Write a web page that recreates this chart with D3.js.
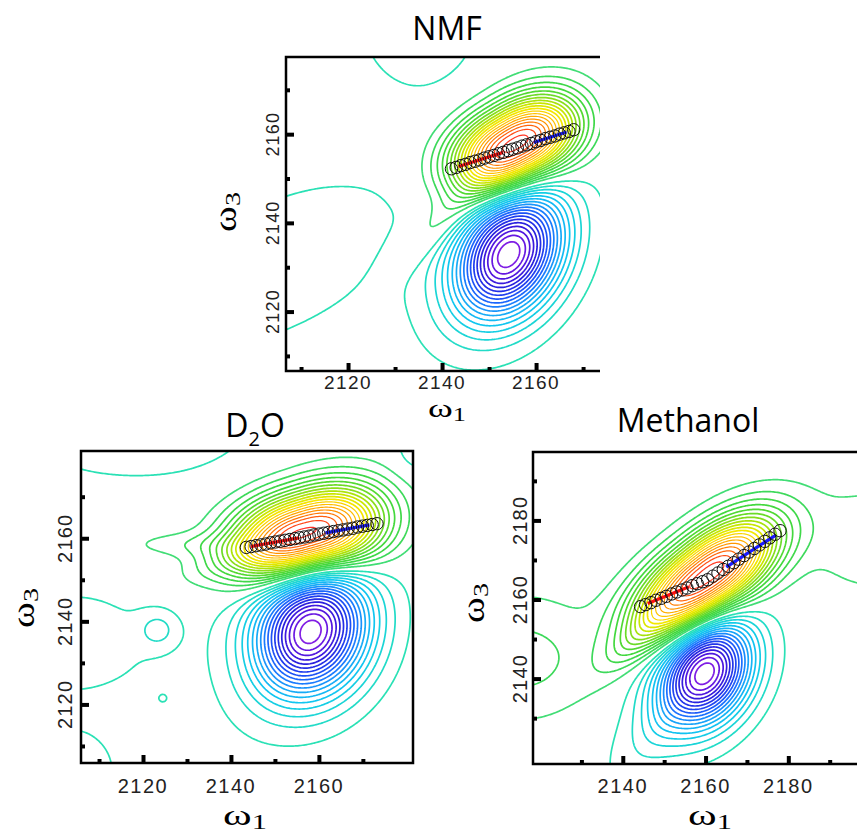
<!DOCTYPE html>
<html><head><meta charset="utf-8">
<script src="https://cdn.jsdelivr.net/npm/d3@7"></script>
<style>body{margin:0;background:#fff}</style>
</head><body><svg id="c" width="857" height="836"></svg>
<script>
// ---------------- DATA (values in cm^-1) ----------------
// spectral components: [ω1 centre, ω3 centre, width along axis, width across axis, axis angle (deg), amplitude, gaussian fraction, exponent along axis]
const nmfPeaks = [
  [2155.5, 2157.5, 10.5, 5.8, 32, 0.9, 1, 2.4],
  [2141, 2141, 9, 3, 45, 0.1, 1, 2],
  [2154.5, 2133.3, 10, 7, 65, -0.75, 1, 2],
  [2151, 2129, 13, 8, 58, -0.1, 0.3, 2],
  [2104, 2130, 22, 11, 30, -0.07, 1, 2],
  [2135, 2186, 9, 11, 0, -0.08, 1, 2]
];
const d2oPeaks = [
  [2157.5, 2161, 12.5, 6.8, 18, 0.9, 1, 2.4],
  [2143, 2156, 10, 3, 20, 0.08, 1, 2],
  [2158.4, 2138.2, 10.5, 8.5, 75, -0.75, 1, 2],
  [2155, 2133, 13, 8, 60, -0.1, 0.3, 2],
  [2123.5, 2138, 3.2, 3.2, 0, -0.075, 1, 2],
  [2130, 2158.5, 10, 2.2, 0, 0.06, 1, 2],
  [2118, 2186, 20, 9, 0, -0.07, 1, 2],
  [2104, 2135, 14, 10, 0, -0.06, 1, 2],
  [2104, 2104, 7, 7, 0, -0.07, 1, 2],
  [2124.5, 2121.5, 0.6, 0.6, 0, -0.06, 1, 2],
  [2183, 2181, 4, 4, 0, -0.07, 1, 2]
];
const methanolPeaks = [
  [2160, 2165.5, 15, 6.2, 40, 0.9, 1, 2.4],
  [2143, 2150, 8, 3, 45, 0.1, 1, 2],
  [2160, 2141.8, 9.5, 7, 65, -0.75, 1, 2],
  [2150, 2130, 14, 6, 55, -0.1, 0.3, 2],
  [2116, 2145, 13, 11, 0, 0.1, 1, 2],
  [2200, 2175, 12, 10, 0, 0.07, 1, 2]
];

// centre-line points (open circles) : ω1 and ω3
const nmfCL1 = [2142,2143,2144,2145,2146,2147,2148,2149,2150,2151,2152,2153,2154,2155,2156,2157,2158,2159,2160,2161,2162,2163,2164,2165,2166,2167,2168];
const nmfCL3 = [2152.2,2152.5,2152.9,2153.2,2153.6,2153.9,2154.2,2154.6,2154.9,2155.2,2155.6,2155.9,2156.3,2156.6,2156.9,2157.3,2157.6,2157.9,2158.3,2158.6,2159.0,2159.3,2159.6,2160.0,2160.3,2160.6,2161.0];
const d2oCL1 = [2143.5,2144.6,2145.7,2146.8,2147.9,2149.0,2150.1,2151.2,2152.3,2153.4,2154.5,2155.6,2156.7,2157.8,2158.9,2160.0,2161.1,2162.2,2163.3,2164.4,2165.5,2166.6,2167.7,2168.8,2169.9,2171.0,2172.1,2173.2];
const d2oCL3 = [2157.8,2158.0,2158.2,2158.4,2158.6,2158.9,2159.1,2159.3,2159.5,2159.7,2159.9,2160.1,2160.3,2160.5,2160.8,2161.0,2161.2,2161.4,2161.6,2161.8,2162.0,2162.2,2162.4,2162.7,2162.9,2163.1,2163.3,2163.5];
const methCL1 = [2144.3,2145.5,2146.8,2148.0,2149.3,2150.5,2151.8,2153.0,2154.3,2155.5,2156.8,2158.0,2159.3,2160.5,2161.8,2163.0,2164.3,2165.5,2166.8,2168.0,2169.3,2170.5,2171.8,2173.0,2174.3,2175.5,2176.8,2178.0];
const methCL3 = [2158.2,2158.7,2159.2,2159.8,2160.3,2160.8,2161.4,2161.9,2162.4,2162.9,2163.5,2164.0,2164.5,2165.0,2165.9,2166.7,2167.6,2168.4,2169.3,2170.2,2171.1,2172.0,2172.9,2173.8,2174.7,2175.6,2176.5,2177.4];

// fitted segments: [ω1 start, ω3 start, ω1 end, ω3 end]
const nmfRed = [2143.5, 2152.7, 2153, 2155.9];
const nmfBlue = [2159.5, 2158.1, 2166.5, 2160.5];
const d2oRed = [2144.5, 2158.0, 2155.5, 2160.1];
const d2oBlue = [2161.5, 2161.3, 2171.5, 2163.2];
const methRed = [2146, 2159.0, 2156, 2163.2];
const methBlue = [2165, 2168.2, 2177, 2176.3];

// axis ticks
const nmfMajorX = [2120, 2140, 2160], nmfMinorX = [2110, 2130, 2150, 2170];
const nmfMajorY = [2120, 2140, 2160], nmfMinorY = [2110, 2130, 2150, 2170];
const d2oMajorX = [2120, 2140, 2160], d2oMinorX = [2110, 2130, 2150, 2170];
const d2oMajorY = [2120, 2140, 2160], d2oMinorY = [2110, 2130, 2150, 2170];
const methMajorX = [2140, 2160, 2180], methMinorX = [2130, 2150, 2170, 2190];
const methMajorY = [2140, 2160, 2180], methMinorY = [2130, 2150, 2170, 2190];

// axis domains
const nmfDomX = [2106.8, 2173.6], nmfDomY = [2106.6, 2177.4];
const d2oDomX = [2105.9, 2181.4], d2oDomY = [2105.9, 2181.0];
const methDomX = [2118.3, 2196.6], methDomY = [2118.4, 2197.3];

// contour levels
const levelSteps = d3.range(0, 24);

// ---------------- LAYOUT ----------------
const panels = [
  {title: "NMF", peaks: nmfPeaks, cl1: nmfCL1, cl3: nmfCL3, red: nmfRed, blue: nmfBlue,
   majX: nmfMajorX, minX: nmfMinorX, majY: nmfMajorY, minY: nmfMinorY, domX: nmfDomX, domY: nmfDomY,
   box: {l: 286, t: 57, r: 600, b: 371}, rightBorder: false, titleXY: [447, 40],
   xlabOff: 18, xlabSize: 19, ylabOff: 7, ylabSize: 18, w1XY: [447, 417], w1Size: 26, w3XY: [236, 212]},
  {title: "D2O", peaks: d2oPeaks, cl1: d2oCL1, cl3: d2oCL3, red: d2oRed, blue: d2oBlue,
   majX: d2oMajorX, minX: d2oMinorX, majY: d2oMajorY, minY: d2oMinorY, domX: d2oDomX, domY: d2oDomY,
   box: {l: 81, t: 451, r: 413, b: 763}, rightBorder: true, titleXY: [255, 437],
   xlabOff: 30, xlabSize: 20, ylabOff: 9, ylabSize: 20, w1XY: [245, 825], w1Size: 30, w3XY: [34, 608]},
  {title: "Methanol", peaks: methanolPeaks, cl1: methCL1, cl3: methCL3, red: methRed, blue: methBlue,
   majX: methMajorX, minX: methMinorX, majY: methMajorY, minY: methMinorY, domX: methDomX, domY: methDomY,
   box: {l: 533, t: 452, r: 857, b: 764}, rightBorder: false, titleXY: [688, 432],
   xlabOff: 29, xlabSize: 20, ylabOff: 6, ylabSize: 20, w1XY: [710, 825], w1Size: 30, w3XY: [484, 603]}
];

const svg = d3.select("#c");

const posColor = d3.piecewise(d3.interpolateRgb, ["#44e08a","#3cd850","#46d838","#7cdc20","#c4e600","#f4e800","#ffc000","#ff9000","#ff5a10","#ff2a2a"]);
const negColor = d3.piecewise(d3.interpolateRgb, ["#30e6a8","#1ed8d0","#10c8f0","#18a8f8","#1a70ff","#1f40f0","#2a1edc","#5a14e0","#9222e6"]);

function field(comps, x, y) {
  let v = 0;
  for (const [cx, cy, sa, sb, ang, amp, g, q] of comps) {
    const a = ang * Math.PI / 180;
    const dx = x - cx, dy = y - cy;
    const u = dx * Math.cos(a) + dy * Math.sin(a);
    const w = -dx * Math.sin(a) + dy * Math.cos(a);
    const r2 = Math.pow(Math.abs(u / sa), q) + (w / sb) ** 2;
    v += amp * (g * Math.exp(-r2 / 2) + (1 - g) / (1 + r2));
  }
  return v;
}

panels.forEach((p, pi) => {
  const {l, t, r, b} = p.box;
  const x = d3.scaleLinear().domain(p.domX).range([l, r]);
  const y = d3.scaleLinear().domain(p.domY).range([b, t]);
  const g = svg.append("g");

  const cid = "clip" + pi;
  svg.append("clipPath").attr("id", cid).append("rect")
    .attr("x", l).attr("y", t).attr("width", r - l).attr("height", b - t);

  const step = 0.35, pad = 6;
  const x0 = p.domX[0] - pad, x1 = p.domX[1] + pad;
  const y0 = p.domY[0] - pad, y1 = p.domY[1] + pad;
  const nx = Math.ceil((x1 - x0) / step) + 1, ny = Math.ceil((y1 - y0) / step) + 1;
  const vals = new Array(nx * ny);
  let vmax = 0, vmin = 0;
  for (let j = 0; j < ny; j++) {
    const wy = y1 - j * step;
    for (let i = 0; i < nx; i++) {
      const wx = x0 + i * step;
      const v = field(p.peaks, wx, wy);
      vals[j * nx + i] = v;
      if (v > vmax) vmax = v;
      if (v < vmin) vmin = v;
    }
  }
  const posLevels = levelSteps.map(k => 0.035 + 0.045 * k).filter(v => v < vmax);
  const negLevels = levelSteps.map(k => -(0.035 + 0.045 * k)).filter(v => v > vmin);
  const thresholds = negLevels.concat(posLevels);

  const contours = d3.contours().size([nx, ny]).thresholds(thresholds)(vals);
  const proj = d3.geoTransform({
    point: function(px, py) {
      this.stream.point(x(x0 + (px - 0.5) * step), y(y1 - (py - 0.5) * step));
    }
  });
  const path = d3.geoPath(proj);

  g.append("g").attr("clip-path", `url(#${cid})`)
    .selectAll("path").data(contours).join("path")
    .attr("d", path)
    .attr("fill", "none")
    .attr("stroke", d => d.value > 0 ? posColor(Math.min(1, d.value / vmax)) : negColor(Math.min(1, d.value / vmin)))
    .attr("stroke-width", d => d.value > 0 && d.value / vmax > 0.6 ? 1.2 : 1.7)
    .attr("stroke-linejoin", "round");

  const pts = p.cl1.map((v, i) => [v, p.cl3[i]]);
  const cg = g.append("g").attr("clip-path", `url(#${cid})`);
  cg.append("line").attr("x1", x(p.red[0])).attr("y1", y(p.red[1])).attr("x2", x(p.red[2])).attr("y2", y(p.red[3]))
    .attr("stroke", "#ff1010").attr("stroke-width", 3.2);
  cg.append("line").attr("x1", x(p.blue[0])).attr("y1", y(p.blue[1])).attr("x2", x(p.blue[2])).attr("y2", y(p.blue[3]))
    .attr("stroke", "#1a1aff").attr("stroke-width", 3.2);
  cg.selectAll("circle").data(pts).join("circle")
    .attr("cx", d => x(d[0])).attr("cy", d => y(d[1])).attr("r", 6.2)
    .attr("fill", "none").attr("stroke", "#111").attr("stroke-width", 1);

  const axB = g.append("g").attr("transform", `translate(0,${b})`);
  axB.call(d3.axisBottom(x).tickValues(p.majX).tickSize(-8).tickFormat(""));
  axB.selectAll(".tick line").attr("stroke", "#000").attr("stroke-width", 4);
  const axB2 = g.append("g").attr("transform", `translate(0,${b})`);
  axB2.call(d3.axisBottom(x).tickValues(p.minX).tickSize(-4).tickFormat(""));
  axB2.selectAll(".tick line").attr("stroke", "#000").attr("stroke-width", 4);
  const axL = g.append("g").attr("transform", `translate(${l},0)`);
  axL.call(d3.axisLeft(y).tickValues(p.majY).tickSize(-8).tickFormat(""));
  axL.selectAll(".tick line").attr("stroke", "#000").attr("stroke-width", 4);
  const axL2 = g.append("g").attr("transform", `translate(${l},0)`);
  axL2.call(d3.axisLeft(y).tickValues(p.minY).tickSize(-4).tickFormat(""));
  axL2.selectAll(".tick line").attr("stroke", "#000").attr("stroke-width", 4);
  g.selectAll(".domain").remove();

  g.append("path").attr("fill", "none").attr("stroke", "#000").attr("stroke-width", 2.5)
    .attr("d", p.rightBorder ? `M${l},${t}H${r}V${b}H${l}Z` : `M${r},${t}H${l}V${b}H${r}`);

  g.selectAll(".xl").data(p.majX).join("text").attr("class", "xl")
    .attr("x", d => x(d)).attr("y", b + p.xlabOff)
    .attr("text-anchor", "middle").attr("font-family", "Liberation Sans, Arial, sans-serif")
    .attr("font-size", p.xlabSize).attr("letter-spacing", 1.5).attr("fill", "#222").text(d => d);
  g.selectAll(".yl").data(p.majY).join("text").attr("class", "yl")
    .attr("transform", d => `translate(${l - p.ylabOff},${y(d)}) rotate(-90)`)
    .attr("text-anchor", "middle").attr("font-family", "Liberation Sans, Arial, sans-serif")
    .attr("font-size", p.ylabSize).attr("letter-spacing", 1.2).attr("fill", "#222").text(d => d);

  const tt = svg.append("text").attr("x", p.titleXY[0]).attr("y", p.titleXY[1])
    .attr("text-anchor", "middle").attr("font-family", "Open Sans, Noto Sans, sans-serif")
    .attr("font-size", 32).attr("fill", "#000");
  if (p.title === "D2O") {
    tt.append("tspan").text("D");
    tt.append("tspan").attr("font-size", 20).attr("dy", 9).text("2");
    tt.append("tspan").attr("dy", -9).text("O");
  } else tt.text(p.title);

  const w1 = svg.append("text").attr("transform", `translate(${p.w1XY[0]},${p.w1XY[1]}) scale(1.45,1)`)
    .attr("text-anchor", "middle").attr("font-family", "Liberation Serif, Times New Roman, serif")
    .attr("font-size", p.w1Size).attr("fill", "#000");
  w1.append("tspan").text("ω");
  w1.append("tspan").attr("font-size", p.w1Size * 0.7).attr("dy", 4).text("1");
  const w3 = svg.append("text").attr("transform", `translate(${p.w3XY[0]},${p.w3XY[1]}) rotate(-90) scale(1.4,1.1)`)
    .attr("text-anchor", "middle").attr("font-family", "Liberation Serif, Times New Roman, serif")
    .attr("font-size", 28).attr("fill", "#000");
  w3.append("tspan").text("ω");
  w3.append("tspan").attr("font-size", 20).attr("dy", 4).text("3");
});
</script></body></html>
